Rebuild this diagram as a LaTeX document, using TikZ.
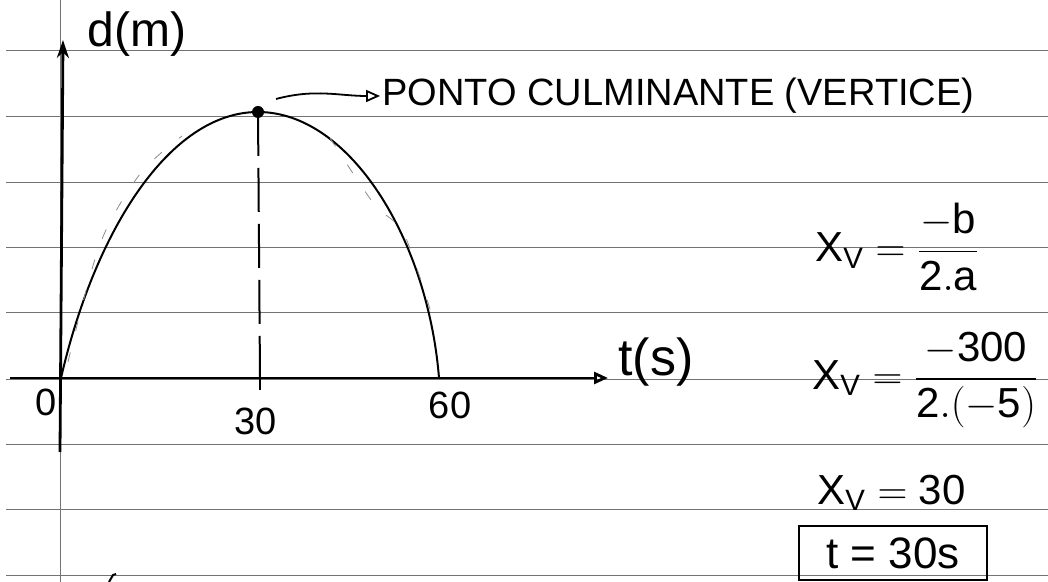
\documentclass[tikz,border=0pt]{standalone}
\usepackage{fontspec}
\setmainfont{Liberation Sans}
\usepackage{amsmath}
\usetikzlibrary{arrows.meta}

\begin{document}
\begin{tikzpicture}[
	x=0.5pt, y=-0.5pt,
	regua/.style={black!55, line width=0.5pt},
	eixo/.style={line width=1.4pt},
	seta/.style={-{Triangle[open, length=7pt, width=6pt]}, line width=0.9pt},
	curva/.style={line width=1pt},
	guia/.style={black!45, line width=0.4pt, dash pattern=on 5pt off 11pt},
	rot/.style={font=\fontsize{19}{22}\selectfont, inner sep=1pt},
	conta/.style={font=\fontsize{21}{25}\selectfont, anchor=west, inner sep=0pt}
	]
	\useasboundingbox (0,0) rectangle (1048,582);
	\fill[white] (0,0) rectangle (1048,582);
	\foreach \y in {51,117,183,248,313,379,444,509,575}
		\draw[regua] (6,\y) -- (1048,\y);
	\draw[regua] (60,0) -- (60,582);

	\coordinate (O) at (61,378);
	\coordinate (ybot) at (60,452);
	\coordinate (ytop) at (63,40);
	\coordinate (xini) at (10,378);
	\coordinate (xfim) at (608,378);
	\coordinate (v) at (258,112);
	\coordinate (p30) at (260,378);
	\coordinate (p60) at (439,378);
	\coordinate (a0) at (276,99);

	\draw[eixo, -{Stealth[length=9pt, width=6pt]}] (ybot) -- (ytop);
	\draw[eixo, -{Triangle[open, length=7pt, width=6pt]}] (xini) -- (xfim);
	\draw[eixo] (p30) -- ++(0,12);

	\draw[curva] (O) .. controls (95,230) and (170,112) .. (v)
		.. controls (350,112) and (428,240) .. (p60);
	\draw[guia] plot[smooth] coordinates {(68,362) (100,244) (140,174) (182,136)};
	\draw[guia] plot[smooth] coordinates {(330,138) (374,204) (404,234) (434,322)};
	\draw[curva, dash pattern=on 22pt off 6pt] (v) -- (p30);
	\fill (v) circle (3pt);

	\node[font=\fontsize{24}{28}\selectfont, inner sep=1pt] (dm) at (137,34) {d(m)};
	\node[font=\fontsize{26}{30}\selectfont, inner sep=1pt, anchor=west] (ts) at (616,362) {t(s)};
	\node[rot] (n0) at (46,402) {0};
	\node[rot] (n30) at (256,421) {30};
	\node[rot] (n60) at (450,405) {60};

	\node[rot, anchor=west] (culm) at (380,96) {PONTO CULMINANTE (VERTICE)};
	\draw[seta] (a0) to[out=15, in=180] (culm.west);

	\node[conta] (f1) at (815,247) {$\mathrm{X_V = \dfrac{-b}{2.a}}$};
	\node[conta] (f2) at (812,380) {$\mathrm{X_V = \dfrac{-300}{2.(-5)}}$};
	\node[conta] (f3) at (817,493) {$\mathrm{X_V = 30}$};
	\node[draw, line width=1pt, minimum width=94pt, minimum height=27pt, font=\fontsize{22}{26}\selectfont] (res) at (893,553) {t = 30s};

	\draw[line width=1pt] (109,582) -- (113,575) -- (116,574);
\end{tikzpicture}
\end{document}
